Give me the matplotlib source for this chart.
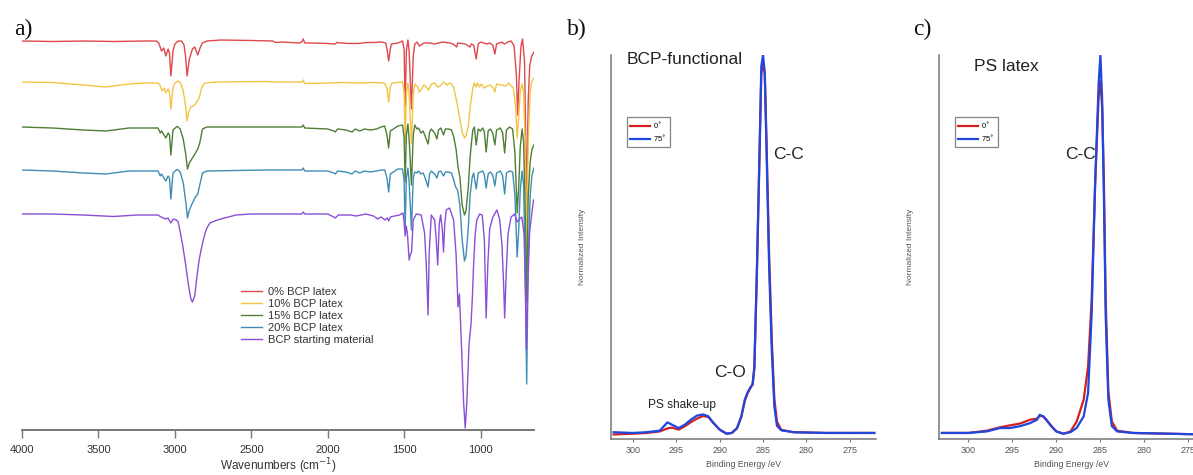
import matplotlib
matplotlib.use("Agg")
import matplotlib.pyplot as plt

plt.rcParams['font.family'] = ['Liberation Sans', 'DejaVu Sans']

# ---------------- Panel a: FTIR spectra (wavenumber, absorption depth a.u.) ----------------
ftir_labels = ["0% BCP latex", "10% BCP latex", "15% BCP latex", "20% BCP latex",
               "BCP starting material"]
ftir_colors = ["#e0484c", "#f2c445", "#4f7e35", "#3f8db3", "#8a4fd6"]
ftir_offsets = [389, 348, 303, 260, 216]

spec_0 = [(4000, 0), (3800, 0.5), (3600, 0), (3400, 0.5), (3200, 0), (3120, 0), (3105, 2),
          (3087, 10), (3072, 7), (3059, 15), (3044, 8), (3035, 12), (3026, 35), (3012, 10),
          (3000, 3), (2978, 0), (2956, 0), (2940, 4), (2930, 15), (2920, 35), (2905, 18),
          (2885, 8), (2870, 6), (2850, 14), (2835, 7), (2820, 2), (2790, 0), (2700, -1),
          (2500, -0.5), (2360, 0), (2340, 1.5), (2300, 1), (2180, 2), (2165, 0), (2160, -2),
          (2150, 2), (2100, 2), (2000, 2.5), (1950, 3), (1940, 1.5), (1870, 2.5), (1800, 2.5),
          (1745, 1.5), (1700, 1.5), (1650, 1), (1620, 2), (1610, 10), (1601, 20), (1590, 8),
          (1583, 3), (1540, 2), (1510, 0), (1500, 8), (1493, 65), (1485, 10), (1475, -1),
          (1467, 10), (1452, 68), (1440, 15), (1430, 3), (1415, 1), (1400, 5), (1390, 4),
          (1370, 2), (1330, 2), (1300, 3), (1250, 1), (1200, 2), (1180, 3), (1155, 6),
          (1150, 2), (1100, 3), (1069, 6), (1060, 3), (1045, 4), (1028, 18), (1015, 3),
          (1000, 1), (960, 3), (940, 2), (920, 4), (906, 13), (895, 3), (860, 1), (845, 3),
          (820, 1), (800, 0), (780, 5), (765, 35), (757, 74), (748, 40), (735, 5), (725, -2),
          (712, 20), (698, 160), (688, 60), (678, 25), (665, 15), (650, 11)]

spec_10 = [(4000, 0), (3800, 0.5), (3600, 3), (3450, 5), (3300, 2), (3200, 1), (3110, 1),
           (3098, 3), (3083, 9), (3070, 6), (3059, 11), (3044, 7), (3035, 10), (3026, 27),
           (3012, 6), (3000, 1), (2978, -1), (2963, 1), (2945, 9), (2930, 24), (2920, 39),
           (2910, 30), (2895, 25), (2880, 24), (2865, 22), (2850, 18), (2840, 16), (2826, 6),
           (2805, 1), (2730, 0), (2400, -0.5), (2360, 0), (2165, 0), (2160, -2), (2150, 1.5),
           (2000, 1), (1900, 0.5), (1800, 1), (1700, 0.5), (1630, 1), (1612, 6), (1601, 20),
           (1590, 5), (1580, 1), (1510, 0), (1500, 10), (1493, 62), (1485, 12), (1475, 1),
           (1467, 12), (1452, 62), (1440, 12), (1430, 2), (1410, 5), (1400, 10), (1390, 8),
           (1370, 3), (1350, 6), (1340, 8), (1320, 2), (1300, 1), (1280, 5), (1265, 4),
           (1240, 0), (1220, 3), (1200, 1), (1190, 2), (1175, 6), (1160, 16), (1140, 33),
           (1120, 50), (1105, 56), (1095, 54), (1080, 44), (1065, 22), (1050, 6), (1040, 1),
           (1028, 5), (1020, 1), (1005, 5), (995, 2), (975, 6), (955, 4), (940, 3), (920, 5),
           (906, 10), (895, 2), (860, 3), (835, 4), (815, 1), (800, 4), (785, 6), (770, 25),
           (760, 56), (750, 35), (740, 10), (728, 2), (718, 10), (708, 60), (698, 170),
           (688, 60), (675, 10), (665, 0), (650, -4)]

spec_15 = [(4000, 0), (3800, 1), (3600, 3), (3450, 4), (3300, 1), (3200, 1), (3110, 1),
           (3095, 6), (3087, 4), (3059, 11), (3044, 6), (3035, 8), (3026, 28), (3012, 3),
           (2990, 0), (2983, -0.5), (2965, 2), (2945, 12), (2930, 26), (2917, 42), (2905, 36),
           (2885, 31), (2865, 26), (2850, 22), (2837, 16), (2819, 2), (2790, 0), (2600, 0),
           (2400, 0), (2170, 0), (2160, -2), (2150, 1), (2000, 2), (1960, 4), (1950, 5),
           (1935, 2), (1880, 3), (1840, 5), (1820, 2), (1790, 4), (1760, 2), (1720, 3),
           (1680, 2), (1650, 0), (1627, -1), (1612, 8), (1601, 21), (1590, 4), (1540, -1),
           (1510, -2), (1500, 10), (1493, 55), (1485, 8), (1475, -3), (1467, 12), (1452, 58),
           (1440, 8), (1430, -2), (1416, 2), (1405, 1), (1390, 6), (1375, 4), (1360, 10),
           (1343, 17), (1333, 5), (1322, 2), (1300, 6), (1285, 12), (1275, 3), (1260, 1),
           (1242, 8), (1230, 2), (1210, 2), (1190, 3), (1175, 10), (1160, 22), (1147, 40),
           (1135, 50), (1120, 78), (1105, 88), (1095, 84), (1080, 60), (1068, 30), (1058, 14),
           (1050, 3), (1040, 0), (1028, 18), (1015, 2), (1000, 4), (985, 1), (975, 5),
           (963, 25), (950, 4), (935, 2), (920, 6), (906, 18), (895, 3), (870, 1), (855, 6),
           (842, 26), (830, 3), (810, 0), (790, 2), (775, 25), (760, 86), (750, 60), (740, 20),
           (728, 2), (718, 15), (708, 80), (698, 175), (688, 70), (675, 35), (663, 22),
           (650, 18)]

spec_20 = [(4000, 0), (3800, 1), (3600, 3), (3450, 4), (3300, 1), (3200, 1), (3110, 1),
           (3095, 6), (3087, 4), (3059, 11), (3044, 6), (3035, 8), (3026, 29), (3012, 3),
           (2990, 0), (2983, -0.5), (2965, 2), (2945, 13), (2930, 30), (2917, 48), (2905, 40),
           (2885, 33), (2865, 27), (2850, 24), (2837, 15), (2819, 3), (2790, 1), (2600, 0.5),
           (2400, 0), (2170, 0), (2160, -2), (2150, 1), (2000, 1), (1960, 3), (1950, 4),
           (1935, 1), (1880, 2), (1840, 4), (1820, 1), (1790, 3), (1760, 1), (1720, 2),
           (1680, 1), (1650, 0), (1627, 0), (1612, 8), (1601, 22), (1590, 4), (1540, -1),
           (1510, -1), (1500, 10), (1493, 58), (1485, 8), (1475, -2), (1467, 12), (1452, 60),
           (1440, 8), (1430, 2), (1416, 3), (1405, 1), (1390, 4), (1375, 3), (1360, 9),
           (1343, 17), (1333, 4), (1322, 1), (1300, 4), (1285, 8), (1275, 2), (1260, 1),
           (1242, 6), (1230, 2), (1210, 2), (1190, 3), (1175, 10), (1163, 17), (1150, 20),
           (1135, 35), (1120, 70), (1105, 91), (1095, 86), (1080, 58), (1068, 25), (1055, 8),
           (1045, 3), (1028, 19), (1015, 3), (1000, 2), (985, 1), (975, 5), (963, 18),
           (950, 4), (935, 2), (920, 5), (906, 16), (895, 3), (870, 1), (855, 6), (842, 24),
           (830, 3), (810, 1), (790, 2), (775, 25), (760, 87), (750, 60), (740, 20), (728, 1),
           (718, 15), (708, 90), (698, 214), (688, 90), (675, 25), (663, 5), (650, -2)]

spec_bcp = [(4000, 0), (3800, 0), (3600, 1), (3400, 2.5), (3250, 1), (3110, 1), (3090, 3),
            (3060, 5), (3045, 4), (3026, 9), (3010, 5), (2990, 6), (2978, 8), (2965, 18),
            (2950, 30), (2930, 50), (2910, 72), (2895, 85), (2885, 88), (2870, 82),
            (2855, 62), (2840, 45), (2820, 30), (2800, 18), (2790, 14), (2770, 9), (2740, 7),
            (2700, 5), (2650, 3), (2600, 1), (2500, 0), (2360, 0), (2170, 0), (2160, -2),
            (2150, 0), (2000, 0), (1960, 3), (1950, 4), (1930, 1), (1850, 1), (1812, 2),
            (1750, 0), (1700, 2), (1672, 5), (1650, 3), (1625, 6), (1610, 4), (1601, 7),
            (1590, 3), (1562, 2), (1530, 1), (1507, -1), (1500, 8), (1493, 22), (1486, 12),
            (1478, 20), (1467, 46), (1458, 40), (1451, 38), (1440, 6), (1420, 0), (1388, 1),
            (1366, 19), (1355, 50), (1343, 101), (1336, 40), (1322, 1), (1300, 6), (1290, 25),
            (1280, 51), (1270, 10), (1261, 1), (1250, 15), (1242, 38), (1234, 10), (1224, -4),
            (1202, -6), (1176, 6), (1160, 40), (1147, 93), (1138, 80), (1125, 130),
            (1110, 190), (1100, 214), (1090, 190), (1075, 130), (1062, 110), (1054, 86),
            (1045, 50), (1035, 20), (1024, 6), (1006, 0), (989, 1), (975, 25), (963, 104),
            (952, 50), (940, 15), (919, 3), (893, -4), (875, 5), (860, 30), (849, 69),
            (842, 104), (832, 60), (820, 20), (800, 3), (777, 0), (760, 8), (745, 5),
            (730, 3), (715, 20), (706, 80), (700, 136), (692, 80), (679, 19), (665, 0),
            (653, -14)]

ftir_spectra = [spec_0, spec_10, spec_15, spec_20, spec_bcp]
ftir_ticks = [4000, 3500, 3000, 2500, 2000, 1500, 1000]

# ---------------- Panels b, c: XPS C1s (binding energy eV, normalized intensity) ----------------
xps_ticks = [300, 295, 290, 285, 280, 275]
angle_labels = ["0$^{\\circ}$", "75$^{\\circ}$"]
angle_colors = ["#d02020", "#1f47e0"]

bcp_75 = [(302.2, 0.002), (300.0, 0.0), (298.4, 0.002), (296.9, 0.006), (296.0, 0.028),
          (295.5, 0.022), (294.7, 0.013), (294.0, 0.022), (293.2, 0.037), (292.6, 0.046),
          (291.9, 0.049), (291.3, 0.044), (290.7, 0.026), (290.0, 0.009), (289.2, -0.002),
          (288.6, 0.0), (288.0, 0.013), (287.5, 0.044), (287.1, 0.088), (286.8, 0.106),
          (286.5, 0.119), (286.2, 0.128), (286.0, 0.176), (285.7, 0.44), (285.4, 0.75),
          (285.2, 0.97), (285.0, 1.0), (284.8, 0.95), (284.6, 0.75), (284.3, 0.44),
          (284.0, 0.22), (283.7, 0.07), (283.4, 0.019), (282.9, 0.007), (281.5, 0.002),
          (277.7, 0.0), (272.2, 0.0)]
bcp_0 = [(302.2, -0.004), (300.0, -0.002), (298.4, 0.0), (296.9, 0.004), (296.0, 0.012),
         (295.5, 0.014), (294.7, 0.009), (294.0, 0.018), (293.2, 0.03), (292.6, 0.038),
         (291.9, 0.045), (291.3, 0.042), (290.7, 0.026), (290.0, 0.009), (289.2, -0.002),
         (288.6, 0.0), (288.0, 0.012), (287.5, 0.042), (287.1, 0.085), (286.8, 0.104),
         (286.5, 0.117), (286.2, 0.13), (286.0, 0.17), (285.7, 0.43), (285.4, 0.74),
         (285.2, 0.95), (285.0, 0.985), (284.8, 0.95), (284.6, 0.77), (284.3, 0.47),
         (284.0, 0.25), (283.7, 0.09), (283.4, 0.03), (282.9, 0.008), (281.5, 0.002),
         (277.7, 0.0), (272.2, 0.0)]

ps_75 = [(303.0, 0.0), (300.0, 0.0), (297.9, 0.004), (296.4, 0.013), (295.3, 0.013),
         (294.1, 0.018), (293.0, 0.026), (292.2, 0.035), (291.9, 0.048), (291.5, 0.044),
         (291.1, 0.034), (290.5, 0.016), (290.0, 0.004), (289.2, -0.002), (288.4, 0.002),
         (287.7, 0.013), (286.9, 0.044), (286.4, 0.106), (286.0, 0.31), (285.6, 0.66),
         (285.2, 0.925), (285.0, 1.0), (284.8, 0.88), (284.6, 0.62), (284.4, 0.31),
         (284.1, 0.088), (283.7, 0.018), (283.1, 0.004), (281.3, 0.0), (273.2, -0.004)]
ps_0 = [(303.0, 0.0), (300.0, 0.0), (297.9, 0.006), (296.4, 0.015), (295.3, 0.02),
        (294.1, 0.025), (293.0, 0.035), (292.2, 0.038), (291.9, 0.045), (291.5, 0.044),
        (291.1, 0.033), (290.5, 0.016), (290.0, 0.004), (289.2, -0.002), (288.4, 0.004),
        (287.7, 0.03), (286.9, 0.088), (286.4, 0.176), (286.0, 0.35), (285.6, 0.66),
        (285.2, 0.89), (285.0, 0.93), (284.8, 0.86), (284.6, 0.66), (284.4, 0.35),
        (284.1, 0.11), (283.7, 0.03), (283.1, 0.006), (281.3, 0.0), (273.2, -0.004)]

# ---------------- Figure ----------------
W, H = 1193, 475
fig = plt.figure(figsize=(W / 100, H / 100), dpi=100)


def px_axes(left, top, right, bottom):
    return fig.add_axes([left / W, 1 - bottom / H, (right - left) / W, (bottom - top) / H])


gray = "#777777"

# Panel a
axa = px_axes(22, 30, 534, 430)
for spec, off, col, lab in zip(ftir_spectra, ftir_offsets, ftir_colors, ftir_labels):
    x = [p[0] for p in spec]
    y = [off - p[1] for p in spec]
    axa.plot(x, y, color=col, lw=1.0, label=lab, solid_joinstyle='round')
axa.set_xlim(4000, 650)
axa.set_ylim(0, 400)
for s in ("left", "right", "top"):
    axa.spines[s].set_visible(False)
axa.spines["bottom"].set_color(gray)
axa.spines["bottom"].set_linewidth(1.4)
axa.set_yticks([])
axa.set_xticks(ftir_ticks)
axa.tick_params(axis='x', direction='out', length=5.5, width=1.0, color=gray,
                labelsize=8, labelcolor="#333333", pad=5)
axa.set_xlabel("Wavenumbers (cm$^{-1}$)", fontsize=8.5, color="#333333", va="center")
axa.xaxis.set_label_coords(0.5, -0.09)
leg = axa.legend(loc="upper left", bbox_to_anchor=(241 / W, 1 - 287 / H),
                 bbox_transform=fig.transFigure, frameon=False, fontsize=8,
                 handlelength=1.9, handletextpad=0.55, labelspacing=0.18, borderpad=0,
                 borderaxespad=0)
for t in leg.get_texts():
    t.set_color("#333333")


def xps_panel(left, xlim, data0, data75, title, title_pos, labels, legend_xy, ylab_x):
    ax = px_axes(left, 55, left + 265, 439)
    for data, col, lab in zip((data0, data75), angle_colors, angle_labels):
        ax.plot([p[0] for p in data], [p[1] for p in data], color=col, lw=1.6, label=lab)
    ax.set_xlim(*xlim)
    ax.set_ylim(-0.016, 1.0)
    for s in ("right", "top"):
        ax.spines[s].set_visible(False)
    for s in ("left", "bottom"):
        ax.spines[s].set_color(gray)
        ax.spines[s].set_linewidth(1.1)
    ax.set_yticks([])
    ax.set_xticks(xps_ticks)
    ax.tick_params(axis='x', direction='out', length=2, width=0.8, color=gray,
                   labelsize=6.5, labelcolor="#555555", pad=3)
    ax.set_xlabel("Binding Energy /eV", fontsize=6.3, color="#555555")
    ax.xaxis.set_label_coords(0.5, -0.055)
    ax.set_ylabel("Normalized Intensity", fontsize=6, color="#555555", va="center")
    ax.yaxis.set_label_coords(ylab_x, 0.5)
    ax.text(title_pos[0], title_pos[1], title, transform=ax.transAxes, fontsize=12.5,
            color="#222222", ha="left", va="center", clip_on=False)
    for txt, (tx, ty), fs in labels:
        ax.text(tx, ty, txt, transform=ax.transAxes, fontsize=fs, color="#222222",
                ha="left", va="center")
    lg = ax.legend(loc="upper left", bbox_to_anchor=(legend_xy[0] / W, 1 - legend_xy[1] / H),
                   bbox_transform=fig.transFigure, fontsize=5.5, frameon=True,
                   fancybox=False, edgecolor="#666666", handlelength=2.6,
                   handletextpad=0.4, labelspacing=0.35, borderpad=0.45, borderaxespad=0)
    lg.get_frame().set_linewidth(0.9)
    return ax


xps_panel(611, (302.5, 272.0), bcp_0, bcp_75, "BCP-functional", (0.06, 0.987),
          [("C-C", (0.611, 0.742), 12.5), ("C-O", (0.389, 0.172), 12.5),
           ("PS shake-up", (0.14, 0.088), 8.6)], (627, 117), -0.106)
xps_panel(939.3, (303.3, 273.2), ps_0, ps_75, "PS latex", (0.131, 0.971),
          [("C-C", (0.474, 0.742), 12.5)], (955, 117), -0.108)

for txt, xl in (("a)", 14), ("b)", 567), ("c)", 913)):
    fig.text(xl / W, 1 - 29 / H, txt, fontsize=17, family="Liberation Serif",
             ha="left", va="center", color="#111111")

fig.savefig("out.png", dpi=100)
